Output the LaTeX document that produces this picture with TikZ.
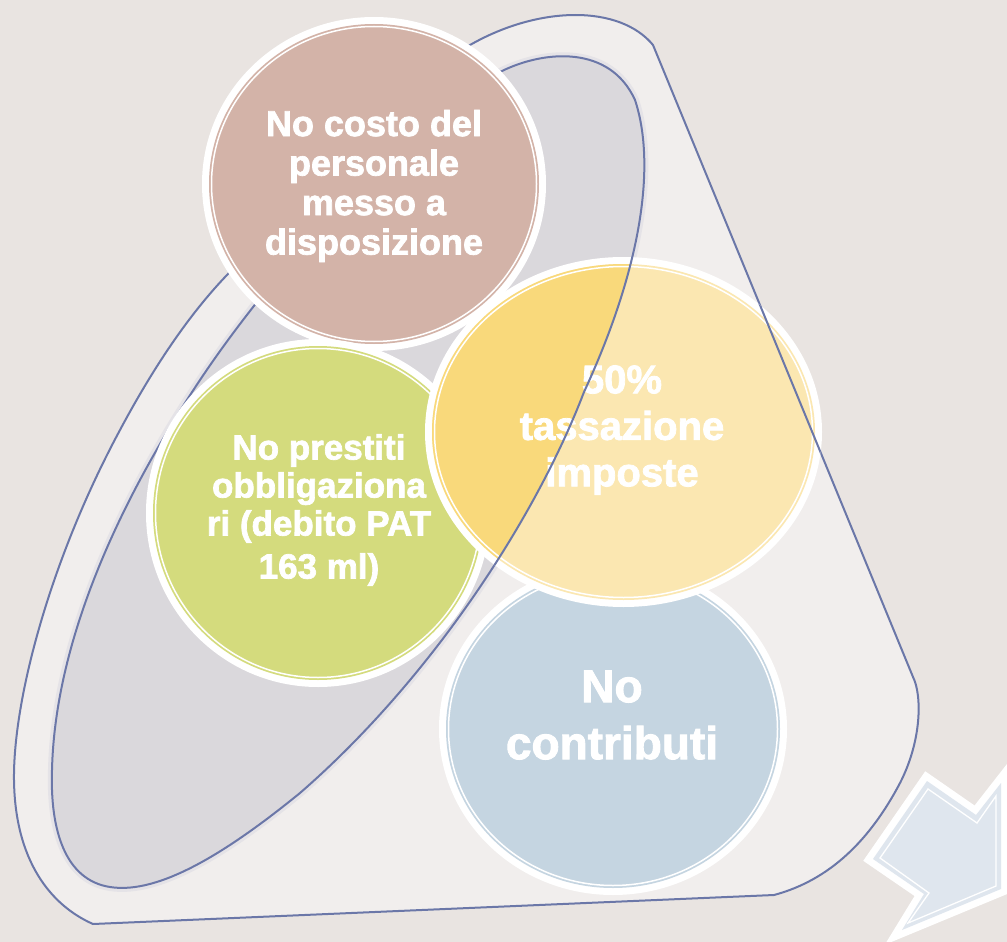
\documentclass[tikz,border=0pt]{standalone}
\usepackage{fontspec}
\newfontfamily\hv{Liberation Sans Bold}[FakeBold=2]
\definecolor{bgc}{HTML}{E9E4E1}
\definecolor{funnelc}{HTML}{F1EEED}
\definecolor{grayc}{HTML}{DAD8DC}
\definecolor{halo}{HTML}{E5E3E7}
\definecolor{lineblue}{HTML}{6B77A8}
\definecolor{brownc}{HTML}{D3B3A8}
\definecolor{greenc}{HTML}{D4DB7D}
\definecolor{ylight}{HTML}{FBE7B1}
\definecolor{ydark}{HTML}{F9D97B}
\definecolor{bluec}{HTML}{C5D5E1}
\definecolor{arrowc}{HTML}{DFE6EE}
\newcommand\funnelpath{(93,924) -- (774,895) .. controls (830,880) and (870,840) .. (900,783) .. controls (922,740) and (922,695) .. (913,677) -- (653,45) .. controls (620,5) and (540,5) .. (470,45) .. controls (400,85) and (290,200) .. (240,262) .. controls (200,300) and (160,355) .. (120,430) .. controls (50,560) and (13,700) .. (14,780) .. controls (15,860) and (50,905) .. (93,924) -- cycle}
\newcommand\innerpath{(502,71) .. controls (545,50) and (610,45) .. (635,100) .. controls (655,160) and (645,260) .. (584,392) .. controls (535,520) and (430,680) .. (300,793) .. controls (230,850) and (160,895) .. (110,887) .. controls (65,880) and (50,830) .. (52,770) .. controls (55,640) and (120,500) .. (200,380) .. controls (280,260) and (420,110) .. (502,71) -- cycle}
\newcommand\ringell[4]{%
  \fill[white] #1 ellipse [x radius=#2, y radius=#3];
  \fill[#4] #1 ellipse [x radius=#2-7, y radius=#3-7];
  \draw[white, line width=1.5pt] #1 ellipse [x radius=#2-9.5, y radius=#3-9.5];
}
\tikzset{
  lbl/.style={text=white, align=center, inner sep=0pt},
  outl/.style={draw=lineblue, line width=2pt},
}
\begin{document}
\begin{tikzpicture}[x=1pt,y=-1pt]
\useasboundingbox (0,0) rectangle (1007,942);
\clip (0,0) rectangle (1007,942);
\fill[bgc] (0,0) rectangle (1007,942);
% funnel
\fill[funnelc] \funnelpath;
\draw[outl] \funnelpath;
% inner ellipse
\draw[halo, line width=8pt] \innerpath;
\fill[grayc] \innerpath;
\draw[outl] \innerpath;
% circles
\ringell{(374,184)}{172}{167}{brownc}
\node[lbl, font={\hv\fontsize{36}{39.5}\selectfont}] (cost) at (374,186) {No costo del\\personale\\messo a\\disposizione};
\ringell{(318,513)}{172}{174}{greenc}
\node[lbl, font={\hv\fontsize{35}{38}\selectfont}] (prest) at (319,510) {No prestiti\\obbligaziona\\ri (debito PAT\\[5pt]163 ml)};
\ringell{(613,729)}{174}{166}{bluec}
\node[lbl, font={\hv\fontsize{46}{57}\selectfont}] (contr) at (612,715) {No\\contributi};
% yellow
\fill[white] (623.5,432) ellipse [x radius=198.5, y radius=175];
\fill[ylight] (623.5,432) ellipse [x radius=191.5, y radius=168];
\begin{scope}
  \clip \innerpath;
  \fill[ydark] (623.5,432) ellipse [x radius=191.5, y radius=168];
\end{scope}
\draw[white, line width=1.5pt] (623.5,432) ellipse [x radius=189, y radius=165.5];
\node[lbl, font={\hv\fontsize{40}{46.5}\selectfont}] (tax) at (622,430) {50\%\\tassazione\\imposte};
\begin{scope}
  \clip (623.5,432) ellipse [x radius=198.5, y radius=175];
  \draw[outl] \innerpath;
  \draw[outl] \funnelpath;
\end{scope}
% arrow
\draw[white, line width=14pt, line join=miter] (873,859) -- (927,781) -- (976,815) -- (1001,783) -- (1001,889) -- (902,930) -- (924,894) -- cycle;
\fill[arrowc] (873,859) -- (927,781) -- (976,815) -- (1001,783) -- (1001,889) -- (902,930) -- (924,894) -- cycle;
\draw[white, line width=1.3pt, line join=miter] (880,858) -- (928,789) -- (977,823) -- (996,796) -- (996,886) -- (908,923) -- (929,893) -- cycle;
\end{tikzpicture}
\end{document}
